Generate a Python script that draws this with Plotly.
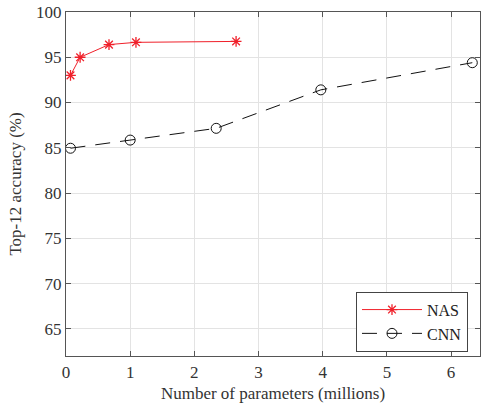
import plotly.graph_objects as go

nas_params = [0.07, 0.22, 0.67, 1.09, 2.65]
nas_acc = [93.0, 95.0, 96.4, 96.65, 96.75]
cnn_params = [0.07, 1.0, 2.34, 3.97, 6.33]
cnn_acc = [84.95, 85.85, 87.15, 91.4, 94.4]

x_ticks = [0, 1, 2, 3, 4, 5, 6]
y_ticks = [65, 70, 75, 80, 85, 90, 95, 100]

FONT = "Liberation Serif"

fig = go.Figure()
fig.add_trace(go.Scatter(
    x=nas_params, y=nas_acc, name="NAS", mode="lines+markers",
    line=dict(color="#f0202a", width=1),
    marker=dict(symbol="asterisk-open", size=9, color="#f0202a",
                line=dict(color="#f0202a", width=1.3)),
))
fig.add_trace(go.Scatter(
    x=cnn_params, y=cnn_acc, name="CNN", mode="lines+markers",
    line=dict(color="#111111", width=1, dash="15px,10px"),
    marker=dict(symbol="circle-open", size=10, color="#111111",
                line=dict(color="#111111", width=1)),
))

axis_common = dict(
    showline=True, linecolor="#555555", linewidth=1.3, mirror="ticks",
    ticks="inside", ticklen=5, tickcolor="#555555",
    showgrid=True, gridcolor="#e3e3e3", gridwidth=1,
    zeroline=False, ticklabeloverflow="allow",
    tickfont=dict(family=FONT, size=17, color="#333333"),
)

fig.update_xaxes(range=[0, 6.45], tickvals=x_ticks,
                 title=dict(text="Number of parameters (millions)",
                            font=dict(family=FONT, size=17, color="#333333"),
                            standoff=6),
                 **axis_common)
fig.update_yaxes(range=[62, 100], tickvals=y_ticks,
                 title=dict(text="Top-12 accuracy (%)",
                            font=dict(family=FONT, size=17, color="#333333"),
                            standoff=10),
                 **axis_common)

fig.update_layout(
    width=484, height=410,
    margin=dict(l=66, r=3, t=9, b=54),
    plot_bgcolor="white", paper_bgcolor="white",
    legend=dict(x=0.971, y=0.187, xanchor="right", yanchor="top",
                bordercolor="#444444", borderwidth=1, bgcolor="white",
                font=dict(family=FONT, size=16, color="#222222"),
                tracegroupgap=0, itemwidth=60),
    showlegend=True,
)

fig.write_html("out.html", config={"displayModeBar": False},
               post_script="document.body.style.margin='0';")
